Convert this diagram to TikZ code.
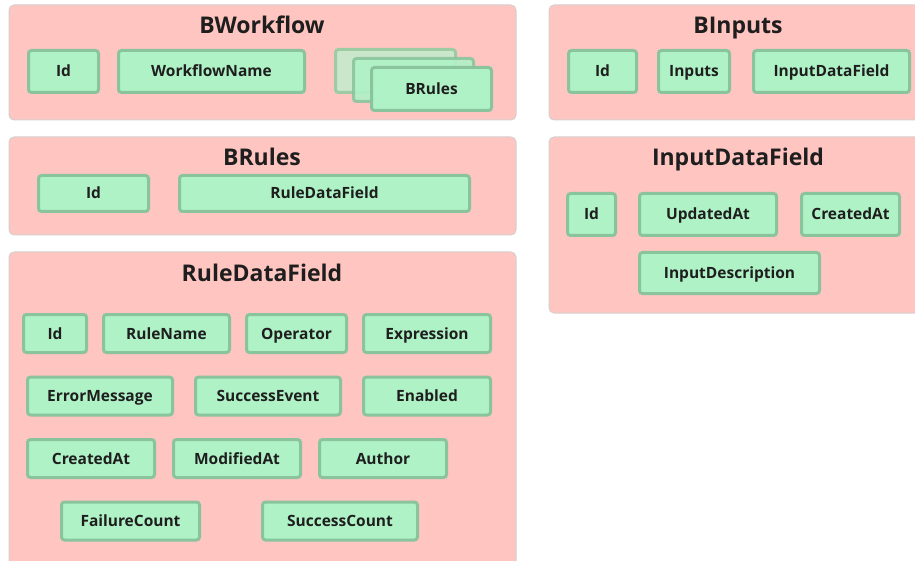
\documentclass[tikz,border=0pt]{standalone}
\usepackage{fontspec}
\setmainfont{Open Sans}
\usepackage{xcolor}
\usetikzlibrary{positioning}

\definecolor{groupfill}{HTML}{FFC5C0}
\definecolor{groupline}{HTML}{D6CFCF}
\definecolor{fieldfill}{HTML}{AFF2C6}
\definecolor{fieldline}{HTML}{8AC49D}
\definecolor{stackfill}{HTML}{CAE7CB}
\definecolor{stackline}{HTML}{9CCBA4}
\definecolor{textcol}{HTML}{1E1E1E}

\tikzset{
  group/.style={draw=groupline, fill=groupfill, line width=1pt, rounded corners=5pt, inner sep=0pt},
  grouptitle/.style={font=\fontsize{23}{26}\selectfont\bfseries, text=textcol, inner sep=0pt,
    text height=16.5pt, text depth=0pt},
  field/.style={draw=fieldline, fill=fieldfill, line width=3pt, rounded corners=3pt, inner sep=0pt,
    font=\fontsize{15.5}{18}\selectfont\bfseries, text=textcol, text height=11pt, text depth=0pt}
}

\begin{document}
\begin{tikzpicture}[x=1pt, y=-1pt]
    \clip (0,0) rectangle (915,561);

    % BWorkflow
    \node[group, minimum width=507, minimum height=115] (bworkflow) at (262.5,62.5) {};
    \node[grouptitle] (bworkflowT) at (262,25) {BWorkflow};
    \node[field, minimum width=70, minimum height=42] (wfId) at (63.5,71.5) {Id};
    \node[field, minimum width=186, minimum height=42] (wfName) at (211.5,71.5) {WorkflowName};
    \node[field, draw=stackline, fill=stackfill, minimum width=120, minimum height=43] (wfRulesC) at (395.5,71) {};
    \node[field, opacity=0.88, minimum width=120, minimum height=43] (wfRulesB) at (413.5,80) {};
    \node[field, minimum width=120, minimum height=43] (wfRules) at (431.5,89) {BRules};

    % BInputs
    \node[group, minimum width=380, minimum height=115] (binputs) at (739,62.5) {};
    \node[grouptitle] (binputsT) at (738,25) {BInputs};
    \node[field, minimum width=68, minimum height=42] (biId) at (602.5,71.5) {Id};
    \node[field, minimum width=71, minimum height=42] (biInputs) at (694,71.5) {Inputs};
    \node[field, minimum width=156, minimum height=42] (biField) at (831.5,71.5) {InputDataField};

    % BRules
    \node[group, minimum width=507, minimum height=98] (brules) at (262.5,186) {};
    \node[grouptitle] (brulesT) at (262,157) {BRules};
    \node[field, minimum width=110, minimum height=36] (brId) at (93.5,193.5) {Id};
    \node[field, minimum width=290, minimum height=36] (brField) at (324.5,193.5) {RuleDataField};

    % InputDataField
    \node[group, minimum width=380, minimum height=176] (inputfield) at (739,225) {};
    \node[grouptitle] (inputfieldT) at (738,157) {InputDataField};
    \node[field, minimum width=48, minimum height=42] (ifId) at (591.5,214.5) {Id};
    \node[field, minimum width=137, minimum height=42] (ifUpdated) at (708,214.5) {UpdatedAt};
    \node[field, minimum width=98, minimum height=42] (ifCreated) at (850.5,214.5) {CreatedAt};
    \node[field, minimum width=180, minimum height=41] (ifDesc) at (729.5,273) {InputDescription};

    % RuleDataField
    \node[group, minimum width=507, minimum height=330] (rulefield) at (262.5,417) {};
    \node[grouptitle] (rulefieldT) at (262,273) {RuleDataField};
    \node[field, minimum width=63, minimum height=38] (rfId) at (55,333.5) {Id};
    \node[field, minimum width=126, minimum height=38] (rfName) at (166.5,333.5) {RuleName};
    \node[field, minimum width=100, minimum height=38] (rfOperator) at (296.5,333.5) {Operator};
    \node[field, minimum width=127, minimum height=38] (rfExpression) at (427,333.5) {Expression};
    \node[field, minimum width=145, minimum height=38] (rfError) at (100,396) {ErrorMessage};
    \node[field, minimum width=145, minimum height=38] (rfSuccessEv) at (268,396) {SuccessEvent};
    \node[field, minimum width=127, minimum height=38] (rfEnabled) at (427,396) {Enabled};
    \node[field, minimum width=127, minimum height=38] (rfCreated) at (91,458.5) {CreatedAt};
    \node[field, minimum width=127, minimum height=38] (rfModified) at (237,458.5) {ModifiedAt};
    \node[field, minimum width=127, minimum height=38] (rfAuthor) at (383,458.5) {Author};
    \node[field, minimum width=138, minimum height=38] (rfFailure) at (130.5,521) {FailureCount};
    \node[field, minimum width=155, minimum height=38] (rfSuccessCnt) at (340,521) {SuccessCount};
\end{tikzpicture}
\end{document}
